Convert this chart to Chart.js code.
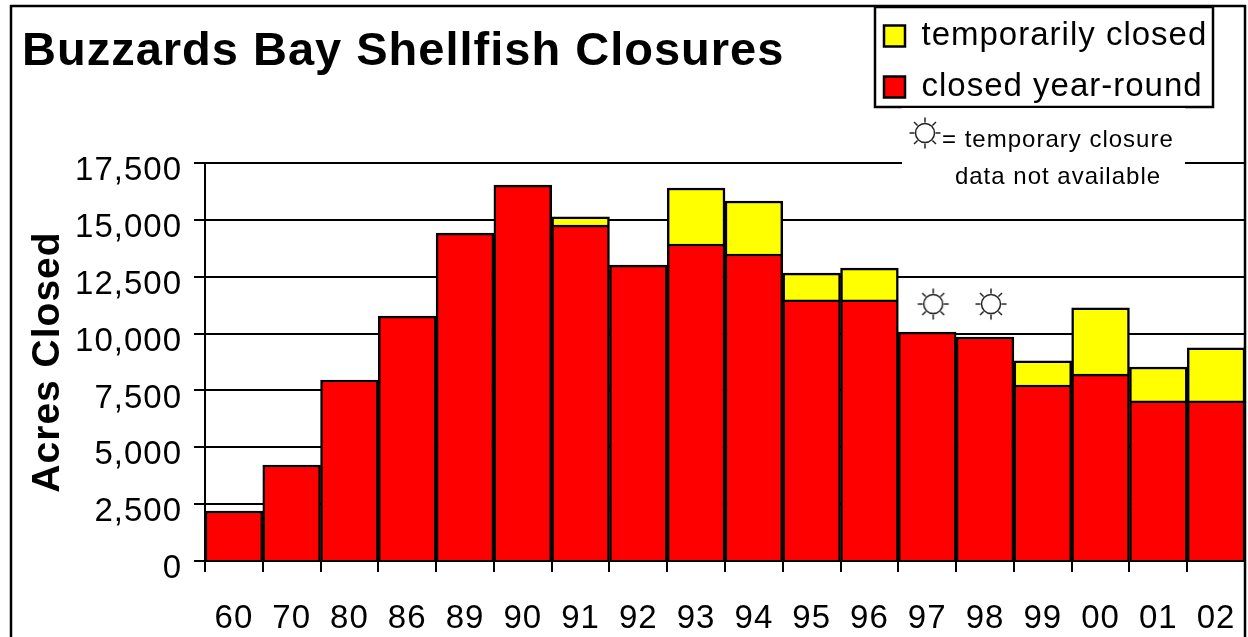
<!DOCTYPE html>
<html>
<head>
<meta charset="utf-8">
<title>Buzzards Bay Shellfish Closures</title>
<script src="https://cdn.jsdelivr.net/npm/chart.js@4/dist/chart.umd.min.js"></script>
<style>
  html, body { margin: 0; padding: 0; background: #fff; }
  #wrap { width: 1248px; height: 637px; }
</style>
</head>
<body>
<div id="wrap"><canvas id="closures"></canvas></div>
<script>
const categories = ['60','70','80','86','89','90','91','92','93','94','95','96','97','98','99','00','01','02'];
const closedYearRound = [2200,4220,7960,10770,14420,16530,14770,13010,13940,13500,11480,11480,10070,9850,7740,8220,7040,7040];
const temporarilyClosed = [null,null,null,null,null,null,360,null,2460,2330,1180,1400,null,null,1060,2910,1490,2330];
const noData = [null,null,null,null,null,null,null,null,null,null,null,null,11300,11300,null,null,null,null];
const yTicks = [0,2500,5000,7500,10000,12500,15000,17500];

const fontName = '"Liberation Sans", Arial, sans-serif';

function drawSun(c, x, y) {
  c.save();
  c.strokeStyle = '#222';
  c.lineWidth = 1.5;
  c.beginPath();
  c.arc(x, y, 9.5, 0, Math.PI * 2);
  c.stroke();
  for (let i = 0; i < 8; i++) {
    const a = i * Math.PI / 4;
    c.beginPath();
    c.moveTo(x + Math.cos(a) * 10.5, y + Math.sin(a) * 10.5);
    c.lineTo(x + Math.cos(a) * 15.5, y + Math.sin(a) * 15.5);
    c.stroke();
  }
  c.restore();
}

// sun used as point image, shifted a bit right of the bar centre
const sunImg = document.createElement('canvas');
sunImg.width = 60;
sunImg.height = 40;
drawSun(sunImg.getContext('2d'), 36, 20);

const framePlugin = {
  id: 'frame',
  afterLayout(chart) {
    const lg = chart.legend;
    lg.left = 866;
    lg.right = 1212;
    lg.top = 1.5;
    lg.bottom = 400;
  },
  beforeDraw(chart) {
    const c = chart.ctx;
    // the original text is spaced a little wider than the font
    c.letterSpacing = '1px';
    c.save();
    c.fillStyle = '#fff';
    c.fillRect(875, 7, 338, 100);
    c.strokeStyle = '#000';
    c.lineWidth = 2.5;
    c.strokeRect(875, 7, 338, 100);
    c.restore();
  },
  beforeDatasetsDraw(chart) {
    const c = chart.ctx;
    c.save();
    c.fillStyle = '#fff';
    c.fillRect(902, 108, 283, 82);
    c.restore();
  },
  afterDraw(chart) {
    const c = chart.ctx;
    c.save();
    c.strokeStyle = '#000';
    c.lineWidth = 2.5;
    c.beginPath();
    c.moveTo(11, 637);
    c.lineTo(11, 6);
    c.lineTo(1245, 6);
    c.lineTo(1245, 637);
    c.stroke();
    drawSun(c, 925, 133);
    c.fillStyle = '#000';
    c.textBaseline = 'middle';
    c.font = '24px ' + fontName;
    c.textAlign = 'left';
    c.fillText('= temporary closure', 942, 140);
    c.textAlign = 'center';
    c.fillText('data not available', 1058, 177);
    c.restore();
  }
};

new Chart(document.getElementById('closures'), {
  type: 'bar',
  data: {
    labels: categories,
    datasets: [
      { label: 'closed year-round', data: closedYearRound, backgroundColor: '#ff0000', borderColor: '#000', borderWidth: 2.5 },
      { label: 'temporarily closed', data: temporarilyClosed, backgroundColor: '#ffff00', borderColor: '#000', borderWidth: 2.5 },
      { type: 'line', label: 'no data', data: noData, showLine: false, pointStyle: sunImg }
    ]
  },
  plugins: [framePlugin],
  options: {
    responsive: true,
    maintainAspectRatio: false,
    animation: false,
    datasets: { bar: { barPercentage: 1, categoryPercentage: 1 } },
    layout: { autoPadding: false, padding: { left: 22, right: 3, top: 0, bottom: 0 } },
    plugins: {
      tooltip: { enabled: false },
      title: {
        display: true,
        text: 'Buzzards Bay Shellfish Closures',
        align: 'start',
        color: '#000',
        font: { family: fontName, size: 47, weight: 'bold' },
        padding: { top: 24, bottom: 82.6 }
      },
      legend: {
        position: 'chartArea',
        align: 'start',
        reverse: true,
        labels: {
          color: '#000',
          boxWidth: 21,
          boxHeight: 21,
          padding: 18,
          font: { family: fontName, size: 33 },
          filter: item => item.text !== 'no data'
        }
      }
    },
    scales: {
      x: {
        stacked: true,
        afterFit(s) { s.height = 76; s.paddingLeft = 0; s.paddingRight = 0; },
        grid: { offset: true, drawOnChartArea: false, color: '#000', lineWidth: 2, tickLength: 11 },
        border: { color: '#000', width: 2 },
        ticks: { color: '#000', padding: 27, maxRotation: 0, autoSkip: false, font: { family: fontName, size: 33 } }
      },
      y: {
        stacked: true,
        min: 0,
        max: 17500,
        afterFit(s) { s.width = 183; },
        afterBuildTicks(s) { s.ticks = yTicks.map(v => ({ value: v })); },
        title: {
          display: true,
          text: 'Acres Closed',
          color: '#000',
          font: { family: fontName, size: 39, weight: 'bold' },
          padding: { top: 3, bottom: 0 }
        },
        grid: { color: '#000', lineWidth: 2, tickLength: 11 },
        border: { color: '#000', width: 2 },
        ticks: { color: '#000', padding: 12, labelOffset: 8, font: { family: fontName, size: 33 }, callback: v => v.toLocaleString('en-US') }
      }
    }
  }
});
</script>
</body>
</html>
